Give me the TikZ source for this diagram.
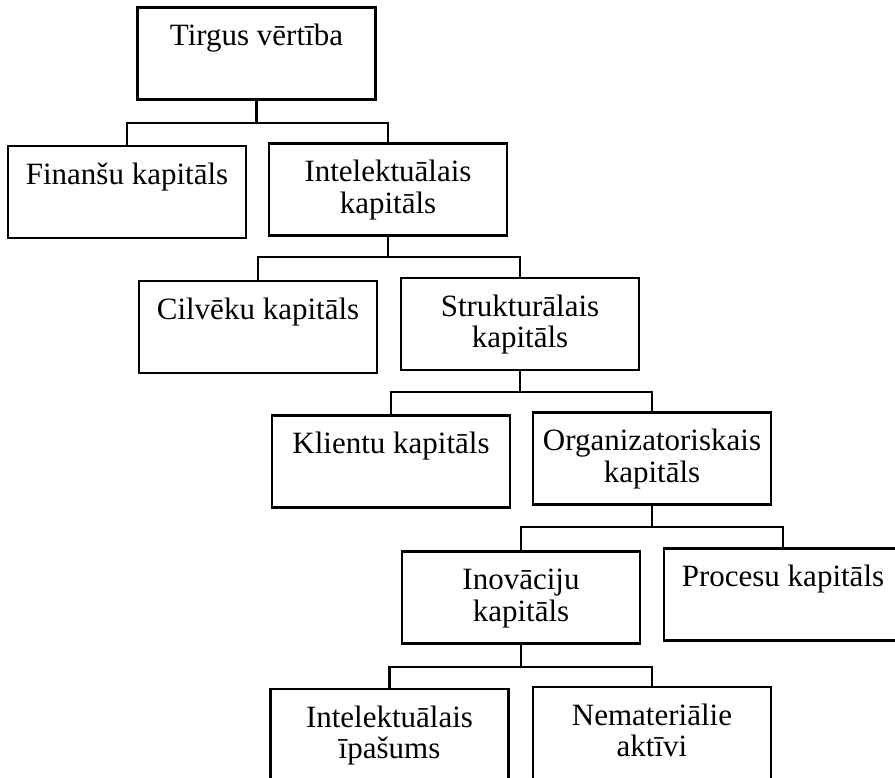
\documentclass[tikz,border=0pt]{standalone}
\usepackage{fontspec}
\setmainfont{Liberation Serif}
\begin{document}
\begin{tikzpicture}[x=1pt,y=-1pt,
  box/.style={draw, line width=2.6pt, minimum width=238pt, minimum height=92pt, inner sep=0pt},
  txt/.style={font=\fontsize{31}{31.5}\selectfont, align=center, anchor=north, inner sep=0pt, yshift=-17.5pt},
  link/.style={line width=2.6pt}]
\useasboundingbox (0,0) rectangle (895,778);
\clip (0,0) rectangle (895,778);

% boxes
\node[box] (tv)  at (256.5,53.5) {};
\node[box] (fk)  at (127,192)   {};
\node[box] (ik)  at (388,189.5) {};
\node[box] (ck)  at (258,327)   {};
\node[box] (sk)  at (520,324)   {};
\node[box] (kk)  at (391,461.5) {};
\node[box] (ok)  at (652,458.5) {};
\node[box] (ink) at (521,597.5) {};
\node[box] (pk)  at (783,594.5) {};
\node[box] (ii)  at (389.5,735) {};
\node[box] (na)  at (652,733)   {};

% labels
\node[txt] (tvT)  at (tv.north)  {\strut Tirgus vērtība};
\node[txt] (fkT)  at (fk.north)  {\strut Finanšu kapitāls};
\node[txt] (ikT)  at (ik.north)  {\strut Intelektuālais\\kapitāls};
\node[txt] (ckT)  at (ck.north)  {\strut Cilvēku kapitāls};
\node[txt] (skT)  at (sk.north)  {\strut Strukturālais\\kapitāls};
\node[txt] (kkT)  at (kk.north)  {\strut Klientu kapitāls};
\node[txt] (okT)  at (ok.north)  {\strut Organizatoriskais\\kapitāls};
\node[txt] (inkT) at (ink.north) {\strut Inovāciju\\kapitāls};
\node[txt] (pkT)  at (pk.north)  {\strut Procesu kapitāls};
\node[txt] (iiT)  at (ii.north)  {\strut Intelektuālais\\īpašums};
\node[txt] (naT)  at (na.north)  {\strut Nemateriālie\\aktīvi};

% branch levels
\coordinate (b1) at (0,123);
\coordinate (b2) at (0,257);
\coordinate (b3) at (0,392);
\coordinate (b4) at (0,527);
\coordinate (b5) at (0,667);

% connectors
\draw[link] (tv.south) -- (tv.south |- b1);
\draw[link] (fk.north) -- (fk.north |- b1) -- (ik.north |- b1) -- (ik.north);
\draw[link] (ik.south) -- (ik.south |- b2);
\draw[link] (ck.north) -- (ck.north |- b2) -- (sk.north |- b2) -- (sk.north);
\draw[link] (sk.south) -- (sk.south |- b3);
\draw[link] (kk.north) -- (kk.north |- b3) -- (ok.north |- b3) -- (ok.north);
\draw[link] (ok.south) -- (ok.south |- b4);
\draw[link] (ink.north) -- (ink.north |- b4) -- (pk.north |- b4) -- (pk.north);
\draw[link] (ink.south) -- (ink.south |- b5);
\draw[link] (ii.north) -- (ii.north |- b5) -- (na.north |- b5) -- (na.north);
\end{tikzpicture}
\end{document}
